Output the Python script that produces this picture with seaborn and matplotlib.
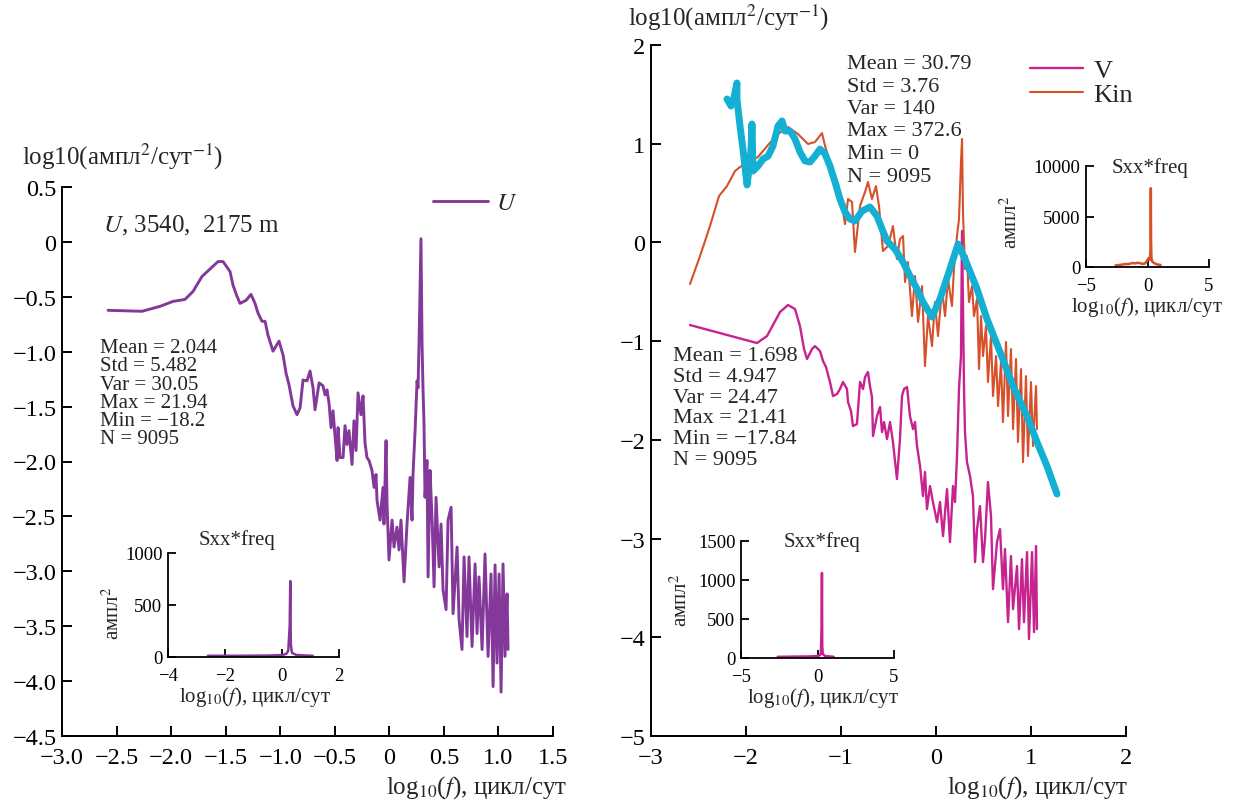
import matplotlib
matplotlib.use("Agg")
import matplotlib.pyplot as plt
import seaborn as sns
from matplotlib.ticker import FixedLocator, FuncFormatter

# ---------------- data ----------------
U_x = [-2.578, -2.267, -2.102, -1.983, -1.873, -1.799, -1.717, -1.570, -1.524, -1.460,
       -1.432, -1.396, -1.368, -1.313, -1.268, -1.231, -1.203, -1.167, -1.139, -1.112,
       -1.066, -1.011, -0.974, -0.947, -0.919, -0.883, -0.846, -0.818, -0.791, -0.754,
       -0.727, -0.699, -0.681, -0.644, -0.608, -0.589, -0.571, -0.553, -0.534, -0.516,
       -0.498, -0.479, -0.470, -0.452, -0.424, -0.406, -0.388, -0.370, -0.342, -0.324,
       -0.305, -0.287, -0.260, -0.241, -0.223, -0.205, -0.186, -0.159, -0.140, -0.122,
       -0.113, -0.085, -0.058, -0.049, -0.030, -0.021, -0.003, 0.025, 0.043, 0.070,
       0.089, 0.107, 0.135, 0.162, 0.190, 0.208, 0.217, 0.236, 0.254, 0.263,
       0.272, 0.290, 0.300, 0.309, 0.318, 0.327, 0.345, 0.355, 0.373, 0.391,
       0.410, 0.428, 0.456, 0.474, 0.492, 0.520, 0.538, 0.566, 0.584, 0.621,
       0.639, 0.666, 0.685, 0.712, 0.730, 0.758, 0.786, 0.804, 0.822, 0.850,
       0.877, 0.905, 0.932, 0.951, 0.969, 0.987, 1.006, 1.024, 1.042, 1.060,
       1.079, 1.088]
U_y = [-0.623, -0.632, -0.587, -0.542, -0.524, -0.451, -0.315, -0.179, -0.179, -0.270,
       -0.397, -0.496, -0.560, -0.532, -0.478, -0.560, -0.650, -0.723, -0.723, -0.850,
       -0.995, -0.904, -1.031, -1.194, -1.303, -1.493, -1.574, -1.511, -1.257, -1.266,
       -1.176, -1.330, -1.529, -1.284, -1.311, -1.393, -1.348, -1.466, -1.692, -1.538,
       -1.764, -1.991, -1.692, -1.964, -1.964, -1.674, -1.846, -1.719, -2.027, -1.629,
       -1.900, -1.375, -1.574, -1.402, -1.828, -1.964, -1.991, -2.081, -2.236, -2.118,
       -2.353, -2.534, -2.236, -2.570, -1.810, -2.389, -2.897, -2.534, -2.779, -2.598,
       -2.806, -2.534, -3.096, -2.570, -2.145, -2.534, -2.118, -1.719, -1.266, -1.330,
       -0.940, 0.029, -0.940, -1.357, -1.665, -2.326, -1.991, -3.051, -2.081, -2.507,
       -3.141, -2.326, -2.960, -2.570, -3.168, -3.349, -2.534, -2.417, -3.386, -2.779,
       -3.440, -3.712, -2.869, -3.594, -2.869, -3.685, -2.933, -3.567, -3.051, -3.712,
       -2.842, -3.775, -3.024, -4.050, -2.942, -3.836, -3.024, -4.100, -2.933, -3.775,
       -3.205, -3.712]

Kin_x = [-2.589, -2.484, -2.379, -2.284, -2.200, -2.116, -2.063, -1.979, -1.874, -1.768,
         -1.663, -1.558, -1.453, -1.347, -1.274, -1.200, -1.168, -1.095, -1.032, -1.011,
         -0.958, -0.926, -0.884, -0.853, -0.800, -0.747, -0.716, -0.674, -0.632, -0.600,
         -0.558, -0.505, -0.453, -0.411, -0.379, -0.347, -0.326, -0.295, -0.253, -0.221,
         -0.189, -0.147, -0.116, -0.084, -0.042, -0.011, 0.021, 0.063, 0.095, 0.126,
         0.168, 0.189, 0.221, 0.242, 0.263, 0.274, 0.284, 0.305, 0.326, 0.347,
         0.379, 0.400, 0.432, 0.453, 0.474, 0.495, 0.526, 0.547, 0.579, 0.600,
         0.632, 0.653, 0.684, 0.705, 0.737, 0.758, 0.789, 0.811, 0.842, 0.863,
         0.895, 0.916, 0.947, 0.968, 1.000, 1.021, 1.053, 1.063]
Kin_y = [-0.421, -0.138, 0.166, 0.470, 0.571, 0.723, 0.764, 0.815, 0.865, 0.987,
         1.098, 1.169, 1.098, 0.997, 1.017, 1.108, 0.977, 0.744, 0.592, 0.511,
         0.186, 0.440, 0.409, -0.097, 0.369, 0.511, 0.612, 0.440, 0.571, 0.369,
         -0.087, -0.036, 0.166, -0.168, 0.034, 0.065, -0.401, -0.199, -0.746, -0.340,
         -0.806, -0.442, -1.252, -0.746, -1.050, -0.604, -0.948, -0.472, -0.746, -0.371,
         -0.644, -0.269, 0.065, 0.237, 0.815, 1.048, 0.308, -0.269, -0.138, -0.604,
         -0.442, -0.746, -0.573, -1.283, -0.746, -1.151, -0.847, -1.414, -0.948, -1.556,
         -1.151, -1.658, -1.212, -1.820, -1.009, -1.759, -1.080, -1.891, -1.181, -2.022,
         -1.283, -2.225, -1.354, -2.164, -1.414, -2.063, -1.455, -1.891]

V_x = [-2.589, -1.884, -1.779, -1.642, -1.558, -1.484, -1.432, -1.389, -1.358, -1.305,
       -1.274, -1.221, -1.189, -1.158, -1.116, -1.084, -1.042, -1.011, -0.979, -0.937,
       -0.926, -0.895, -0.874, -0.832, -0.800, -0.768, -0.747, -0.716, -0.695, -0.674,
       -0.663, -0.621, -0.589, -0.568, -0.547, -0.516, -0.484, -0.453, -0.411, -0.379,
       -0.358, -0.337, -0.305, -0.274, -0.242, -0.221, -0.200, -0.168, -0.137, -0.116,
       -0.095, -0.063, -0.032, 0.011, 0.042, 0.074, 0.116, 0.147, 0.179, 0.200,
       0.221, 0.242, 0.263, 0.274, 0.295, 0.305, 0.326, 0.358, 0.389, 0.411,
       0.432, 0.463, 0.495, 0.516, 0.547, 0.579, 0.600, 0.642, 0.674, 0.705,
       0.726, 0.758, 0.789, 0.811, 0.853, 0.874, 0.905, 0.926, 0.958, 0.979,
       1.011, 1.032, 1.053, 1.063]
V_y = [-0.837, -1.019, -0.948, -0.705, -0.634, -0.675, -0.847, -1.080, -1.181, -1.080,
       -1.050, -1.100, -1.202, -1.262, -1.414, -1.556, -1.536, -1.485, -1.414, -1.485,
       -1.617, -1.708, -1.860, -1.840, -1.414, -1.485, -1.364, -1.313, -1.455, -1.566,
       -1.961, -1.759, -1.668, -1.921, -1.820, -1.992, -1.820, -2.022, -2.397, -1.992,
       -1.556, -1.485, -1.465, -1.759, -1.891, -1.820, -2.063, -2.265, -2.569, -2.326,
       -2.701, -2.468, -2.630, -2.833, -2.630, -2.975, -2.499, -3.036, -2.468, -2.630,
       -2.164, -1.485, -1.151, 0.116, -1.485, -1.921, -2.225, -2.367, -2.569, -3.238,
       -2.904, -2.671, -3.238, -3.005, -2.428, -2.772, -3.512, -3.036, -2.904, -3.512,
       -3.106, -3.846, -3.177, -3.714, -3.279, -3.917, -3.208, -3.846, -3.137, -4.018,
       -3.137, -3.947, -3.076, -3.917]

Fit_x = [-2.200, -2.158, -2.137, -2.095, -2.095, -2.063, -2.032, -1.989, -1.968, -1.947,
         -1.937, -1.926, -1.874, -1.821, -1.768, -1.716, -1.663, -1.621, -1.589, -1.537,
         -1.484, -1.432, -1.379, -1.326, -1.274, -1.221, -1.168, -1.116, -1.063, -1.011,
         -0.958, -0.905, -0.853, -0.779, -0.695, -0.621, -0.568, -0.516, -0.432, -0.347,
         -0.274, -0.200, -0.137, -0.042, 0.042, 0.147, 0.232, 0.305, 0.432, 0.537,
         0.674, 0.811, 0.958, 1.063, 1.168, 1.274]
Fit_y = [1.453, 1.382, 1.422, 1.615, 1.453, 1.179, 0.946, 0.582, 0.744, 0.946,
         1.200, 0.723, 0.774, 0.845, 0.875, 0.977, 1.179, 1.230, 1.129, 1.129,
         1.048, 0.916, 0.825, 0.815, 0.875, 0.946, 0.896, 0.774, 0.612, 0.440,
         0.308, 0.237, 0.217, 0.318, 0.359, 0.267, 0.136, 0.014, -0.067, -0.199,
         -0.340, -0.472, -0.604, -0.756, -0.573, -0.269, -0.016, -0.168, -0.472, -0.776,
         -1.110, -1.455, -1.759, -2.022, -2.265, -2.549]

# insets: Sxx*freq
Uin_x = [-2.6, -1.5, -0.5, 0.0, 0.15, 0.22, 0.27, 0.29, 0.31, 0.35, 0.5, 0.8, 1.08]
Uin_y = [12, 12, 14, 18, 30, 60, 300, 730, 120, 40, 20, 15, 12]
Vin_x = [-2.6, -1.5, -0.5, 0.0, 0.15, 0.22, 0.27, 0.29, 0.31, 0.35, 0.5, 0.8, 1.06]
Vin_y = [15, 18, 20, 25, 35, 60, 400, 1090, 150, 50, 25, 20, 15]
Kin_in_x = [-2.6, -2.3, -2.0, -1.8, -1.6, -1.4, -1.2, -1.0, -0.8, -0.6, -0.4, -0.2,
            -0.05, 0.1, 0.2, 0.25, 0.27, 0.29, 0.32, 0.4, 0.6, 0.8, 1.06]
Kin_in_y = [150, 200, 250, 300, 280, 330, 400, 350, 420, 380, 300, 350,
            600, 900, 700, 2000, 7800, 2500, 900, 500, 350, 250, 200]

# tick values
left_xticks = [-3.0, -2.5, -2.0, -1.5, -1.0, -0.5, 0.0, 0.5, 1.0, 1.5]
left_yticks = [0.5, 0.0, -0.5, -1.0, -1.5, -2.0, -2.5, -3.0, -3.5, -4.0, -4.5]
right_xticks = [-3, -2, -1, 0, 1, 2]
right_yticks = [2, 1, 0, -1, -2, -3, -4, -5]

stats_U = ["Mean = 2.044", "Std = 5.482", "Var = 30.05", "Max = 21.94", "Min = \u221218.2", "N = 9095"]
stats_Kin = ["Mean = 30.79", "Std = 3.76", "Var = 140", "Max = 372.6", "Min = 0", "N = 9095"]
stats_V = ["Mean = 1.698", "Std = 4.947", "Var = 24.47", "Max = 21.41", "Min = \u221217.84", "N = 9095"]

# colours
C_U = "#84399A"
C_V = "#C6238F"
C_K = "#D6502A"
C_FIT = "#13B0D4"

# ---------------- style ----------------
sns.set_style("ticks")
plt.rcParams['font.family'] = ['Liberation Serif', 'DejaVu Serif']
plt.rcParams['mathtext.fontset'] = 'stix'
plt.rcParams['axes.unicode_minus'] = True

W, H = 1244, 803
fig = plt.figure(figsize=(W / 100, H / 100), dpi=100)


def fx(px):
    return px / W


def fy(py):
    return 1 - py / H


def rect(x0, y0, x1, y1):
    return [x0 / W, 1 - y1 / H, (x1 - x0) / W, (y1 - y0) / H]


def style(ax, labelsize, ticklen=7, lw=1.4, xpad=4, ypad=4):
    for s in ['top', 'right']:
        ax.spines[s].set_visible(False)
    for s in ['left', 'bottom']:
        ax.spines[s].set_linewidth(lw)
        ax.spines[s].set_color('black')
    ax.tick_params(direction='in', length=ticklen, width=lw, labelsize=labelsize,
                   colors='black')
    ax.tick_params(axis='x', pad=xpad)
    ax.tick_params(axis='y', pad=ypad)
    ax.set_xlabel('')
    ax.set_ylabel('')
    ax.patch.set_alpha(0)


def fmt_half(v, pos):
    if abs(v) < 1e-9:
        return "0"
    return f"{v:.1f}".replace("-", "\u2212")


def fmt_int(v, pos):
    return f"{int(round(v))}".replace("-", "\u2212")


# ---------------- left panel ----------------
axL = fig.add_axes(rect(62, 188, 553, 737))
sns.lineplot(x=U_x, y=U_y, sort=False, estimator=None, ax=axL, color=C_U, linewidth=2.1)
hU = axL.lines[-1]
axL.set_xlim(-3.0, 1.5)
axL.set_ylim(-4.5, 0.5)
axL.xaxis.set_major_locator(FixedLocator(left_xticks))
axL.yaxis.set_major_locator(FixedLocator(left_yticks))
axL.xaxis.set_major_formatter(FuncFormatter(fmt_half))
axL.yaxis.set_major_formatter(FuncFormatter(fmt_half))
style(axL, 17.5, xpad=8)
axL.legend(handles=[hU], labels=["$U$"], loc='upper left',
           bbox_to_anchor=(fx(433), fy(193)), bbox_transform=fig.transFigure,
           frameon=False, fontsize=18, handlelength=2.2, handletextpad=0.3,
           borderpad=0, borderaxespad=0)

# ---------------- right panel ----------------
axR = fig.add_axes(rect(651, 46, 1126, 737))
sns.lineplot(x=Kin_x, y=Kin_y, sort=False, estimator=None, ax=axR, color=C_K, linewidth=1.5)
hK = axR.lines[-1]
sns.lineplot(x=V_x, y=V_y, sort=False, estimator=None, ax=axR, color=C_V, linewidth=1.7)
hV = axR.lines[-1]
sns.lineplot(x=Fit_x, y=Fit_y, sort=False, estimator=None, ax=axR, color=C_FIT, linewidth=5)
axR.lines[-1].set_solid_capstyle('round')
axR.lines[-1].set_solid_joinstyle('round')
axR.set_xlim(-3, 2)
axR.set_ylim(-5, 2)
axR.xaxis.set_major_locator(FixedLocator(right_xticks))
axR.yaxis.set_major_locator(FixedLocator(right_yticks))
axR.xaxis.set_major_formatter(FuncFormatter(fmt_int))
axR.yaxis.set_major_formatter(FuncFormatter(fmt_int))
style(axR, 17.5, xpad=8)
axR.legend(handles=[hV, hK], labels=["V", "Kin"], loc='upper left',
           bbox_to_anchor=(fx(1030), fy(60)), bbox_transform=fig.transFigure,
           frameon=False, fontsize=19, handlelength=2.0, handletextpad=0.4,
           borderpad=0, borderaxespad=0, labelspacing=0.0)

# ---------------- insets ----------------
def inset(r, xs, ys, color, xlim, ylim, xt, yt, title_xy, ylab_xy, xlab_xy):
    ax = fig.add_axes(rect(*r))
    sns.lineplot(x=xs, y=ys, sort=False, estimator=None, ax=ax, color=color, linewidth=1.8)
    ax.set_xlim(*xlim)
    ax.set_ylim(*ylim)
    ax.xaxis.set_major_locator(FixedLocator(xt))
    ax.yaxis.set_major_locator(FixedLocator(yt))
    ax.xaxis.set_major_formatter(FuncFormatter(fmt_int))
    ax.yaxis.set_major_formatter(FuncFormatter(fmt_int))
    style(ax, 13.5, ticklen=6, lw=1.3, xpad=7, ypad=4)
    fig.text(fx(title_xy[0]), fy(title_xy[1]), "Sxx*freq", fontsize=15, ha='center', va='center')
    fig.text(fx(ylab_xy[0]), fy(ylab_xy[1]), "ампл$^2$", fontsize=15, rotation=90,
             ha='center', va='center')
    fig.text(fx(xlab_xy[0]), fy(xlab_xy[1]), "log$_{10}$($f$), цикл/сут", fontsize=15,
             ha='center', va='center')
    return ax


inset((168, 554, 339, 658), Uin_x, Uin_y, C_U, (-4, 2), (0, 1000), [-4, -2, 0, 2], [0, 500, 1000],
      (237, 540), (113, 613), (255, 697))
inset((741, 542, 894, 659), Vin_x, Vin_y, C_V, (-5, 5), (0, 1500), [-5, 0, 5], [0, 500, 1000, 1500],
      (822, 542), (681, 600), (823, 698))
inset((1086, 167, 1209, 268), Kin_in_x, Kin_in_y, C_K, (-5, 5), (0, 10000), [-5, 0, 5], [0, 5000, 10000],
      (1150, 168), (1011, 222), (1147, 307))

# ---------------- texts ----------------
ylab = "log10(ампл$^2$/сут$^{-1}$)"
fig.text(fx(22), fy(157), ylab, fontsize=18, ha='left', va='center')
fig.text(fx(628), fy(18), ylab, fontsize=18, ha='left', va='center')
fig.text(fx(103), fy(226), "$U$, 3540,  2175 m", fontsize=18, ha='left', va='center')

xlab = "log$_{10}$($f$), цикл/сут"
fig.text(fx(567), fy(788), xlab, fontsize=18, ha='right', va='center')
fig.text(fx(1128), fy(788), xlab, fontsize=18, ha='right', va='center')

fig.text(fx(100), fy(339), "\n".join(stats_U), fontsize=15, ha='left', va='top', linespacing=0.95)
fig.text(fx(847), fy(55), "\n".join(stats_Kin), fontsize=16, ha='left', va='top', linespacing=1.25)
fig.text(fx(673), fy(347), "\n".join(stats_V), fontsize=16, ha='left', va='top', linespacing=1.13)

fig.savefig("out.png", dpi=100)
